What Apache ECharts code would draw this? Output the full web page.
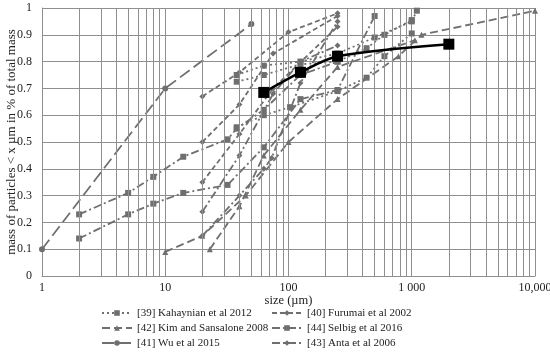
<!DOCTYPE html>
<html><head><meta charset="utf-8">
<script src="https://cdn.jsdelivr.net/npm/echarts@6/dist/echarts.min.js"></script>
<style>html,body{margin:0;padding:0;background:#fff}#c{width:550px;height:354px}</style>
</head><body><div id="c"></div>
<script>
// ---- data (x = size in µm, y = mass fraction) ----
const xTickLabels = {1:'1', 10:'10', 100:'100', 1000:'1 000', 10000:'10,000'};
const minorGridX = [2,3,4,5,6,7,8,9,20,30,40,50,60,70,80,90,200,300,400,500,600,700,800,900,2000,3000,4000,5000,6000,7000,8000,9000];

const kahaynian1 = [[38,0.75],[63,0.785],[125,0.80],[250,0.83],[500,0.89],[1000,0.95],[1100,0.99]];
const kahaynian2 = [[38,0.725],[63,0.75],[125,0.79],[250,0.80],[430,0.85],[600,0.90],[1000,0.955]];
const kahaynian3 = [[38,0.555],[63,0.60],[103,0.63],[250,0.69],[430,0.74],[600,0.82],[1000,0.905]];

const furumai1 = [[20,0.67],[40,0.76],[100,0.91],[250,0.98]];
const furumai2 = [[20,0.50],[40,0.64],[75,0.83],[250,0.97]];
const furumai3 = [[20,0.35],[40,0.53],[75,0.70],[250,0.93]];

const kim1 = [[10,0.09],[20,0.15],[45,0.30],[100,0.50],[250,0.66],[780,0.82],[1200,0.90],[10000,0.99]];
const kim2 = [[23,0.10],[40,0.26],[63,0.45],[125,0.62],[250,0.78],[1060,0.88]];

const selbig1 = [[2,0.23],[5,0.31],[8,0.37],[14,0.445],[32,0.51],[38,0.55],[63,0.62],[125,0.75],[250,0.80]];
const selbig2 = [[2,0.14],[5,0.23],[8,0.27],[14,0.31],[32,0.34],[63,0.48],[125,0.66],[250,0.694],[500,0.97]];

const wu1 = [[1,0.10],[10,0.70],[50,0.94]];

const anta1 = [[20,0.24],[40,0.45],[75,0.68],[125,0.80],[250,0.86]];
const anta2 = [[20,0.15],[40,0.30],[63,0.40],[73,0.44],[125,0.72],[250,0.95]];

const thisStudy = [[63,0.685],[125,0.76],[250,0.82],[2000,0.865]];

// ---- chart ----
const GRAY = '#6f6f6f';
const GRID = '#8f8f8f';
const FONT = '"Liberation Serif", "DejaVu Serif", serif';

function mk(name, data, dash, symbol, size) {
  return {
    name: name, type: 'line', data: data,
    symbol: symbol, symbolSize: size, showSymbol: true,
    lineStyle: {color: GRAY, width: 1.8, type: dash},
    itemStyle: {color: GRAY},
    animation: false, z: 3
  };
}
const nK = '[39] Kahaynian et al 2012', nF = '[40] Furumai et al 2002', nKi = '[42] Kim and Sansalone 2008',
      nS = '[44] Selbig et al 2016', nW = '[41] Wu et al 2015', nA = '[43] Anta et al 2006';

const dot = [2,3], dash = [5,3], longDash = [8,4], dashDot = [8,3,2,3], wuDash = [12,5];

const series = [
  {type:'line', data:[], silent:true, animation:false, z:1,
   markLine:{silent:true, symbol:['none','none'], label:{show:false}, animation:false,
     lineStyle:{color:GRID, width:1, type:'solid'},
     data: minorGridX.map(v=>({xAxis:v}))}},
  mk(nK, kahaynian1, dot, 'rect', 6),
  mk(nK, kahaynian2, dot, 'rect', 6),
  mk(nK, kahaynian3, dot, 'rect', 6),
  mk(nF, furumai1, dash, 'diamond', 6),
  mk(nF, furumai2, dash, 'diamond', 6),
  mk(nF, furumai3, dash, 'diamond', 6),
  mk(nKi, kim1, longDash, 'triangle', 6),
  mk(nKi, kim2, longDash, 'triangle', 6),
  mk(nS, selbig1, dashDot, 'rect', 6),
  mk(nS, selbig2, dashDot, 'rect', 6),
  mk(nW, wu1, wuDash, 'circle', 6),
  mk(nA, anta1, dashDot, 'diamond', 6),
  mk(nA, anta2, dashDot, 'diamond', 6),
  {name:'this study', type:'line', data: thisStudy, symbol:'rect', symbolSize:11, smooth:0.3,
   lineStyle:{color:'#000', width:2.5}, itemStyle:{color:'#000'}, animation:false, z:5}
];

const legendText = {fontFamily: FONT, fontSize: 11, color: '#222', lineHeight: 12};
const chart = echarts.init(document.getElementById('c'), null, {renderer:'canvas'});
chart.setOption({
  backgroundColor: '#fff',
  animation: false,
  grid: {left: 42, right: 15, top: 8, bottom: 78, containLabel: false, outerBoundsMode: 'none'},
  xAxis: {
    type: 'log', logBase: 10, min: 1, max: 10000,
    name: 'size (µm)', nameLocation: 'middle', nameGap: 18, nameMoveOverlap: false,
    nameTextStyle: {fontFamily: FONT, fontSize: 12.5, color: '#222', verticalAlign: 'top'},
    axisLine: {show: true, lineStyle: {color: GRID}},
    axisTick: {show: false},
    axisLabel: {fontFamily: FONT, fontSize: 12, color: '#222', margin: 6,
      formatter: v => xTickLabels[Math.round(v)] || ''},
    splitLine: {show: true, lineStyle: {color: GRID, width: 1}},
    minorTick: {show: false}, minorSplitLine: {show: false}
  },
  yAxis: {
    type: 'value', min: 0, max: 1, interval: 0.1,
    name: 'mass of particles < x µm in % of total mass', nameLocation: 'middle', nameGap: 24, nameMoveOverlap: false,
    nameTextStyle: {fontFamily: FONT, fontSize: 13, color: '#222'},
    axisLine: {show: true, lineStyle: {color: GRID}},
    axisTick: {show: false},
    axisLabel: {fontFamily: FONT, fontSize: 12, color: '#222', margin: 10,
      formatter: v => (Math.round(v*10)/10).toString()},
    splitLine: {show: true, lineStyle: {color: GRID, width: 1}}
  },
  legend: [
    {orient:'vertical', left: 101, top: 307, height: 80, itemWidth: 30, itemHeight: 7, itemGap: 3, padding: 0,
     data: [nK, nKi, nW], textStyle: legendText, selectedMode: false},
    {orient:'vertical', left: 271, top: 307, height: 80, itemWidth: 30, itemHeight: 7, itemGap: 3, padding: 0,
     data: [nF, nS, nA], textStyle: legendText, selectedMode: false}
  ],
  series: series
});
</script>
</body></html>
